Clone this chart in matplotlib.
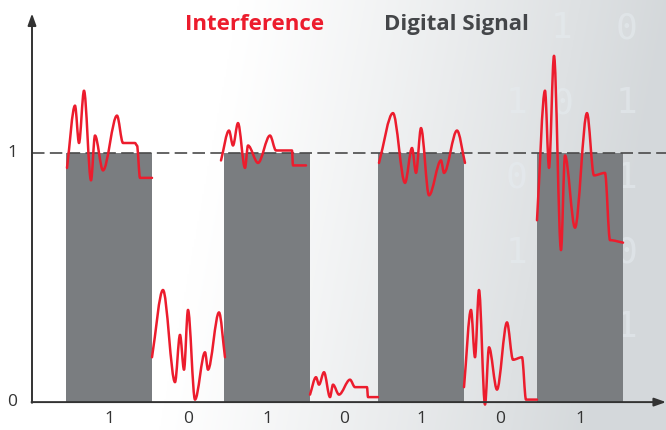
import numpy as np
import matplotlib
matplotlib.use('Agg')
import matplotlib.pyplot as plt
from matplotlib.path import Path
from matplotlib.patches import PathPatch

plt.rcParams['font.family'] = ['Open Sans', 'DejaVu Sans']

# bit sequence and slot edges (x units, y-axis at 0)
bits = [1, 0, 1, 0, 1, 0, 1]
edges = [0.34, 1.20, 1.92, 2.78, 3.46, 4.32, 5.05, 5.91]

# interference curves, one per bit (peaks / troughs)
noise_x = [
    [0.35, 0.43, 0.47, 0.52, 0.59, 0.63, 0.71, 0.85, 0.91, 1.03, 1.05, 1.08, 1.20],
    [1.20, 1.31, 1.43, 1.48, 1.52, 1.56, 1.63, 1.73, 1.76, 1.87, 1.93],
    [1.89, 1.97, 2.01, 2.06, 2.13, 2.16, 2.26, 2.38, 2.44, 2.60, 2.61, 2.74],
    [2.78, 2.84, 2.87, 2.92, 2.98, 3.01, 3.07, 3.18, 3.23, 3.35, 3.36, 3.46],
    [3.47, 3.61, 3.73, 3.80, 3.84, 3.89, 3.97, 4.09, 4.12, 4.25, 4.33],
    [4.32, 4.39, 4.43, 4.47, 4.53, 4.57, 4.65, 4.75, 4.81, 4.90, 4.94, 5.05],
    [5.05, 5.13, 5.17, 5.22, 5.29, 5.33, 5.43, 5.55, 5.62, 5.73, 5.78, 5.91],
]
noise_y = [
    [0.94, 1.19, 1.04, 1.25, 0.89, 1.07, 0.93, 1.15, 1.04, 1.04, 1.03, 0.90, 0.90],
    [0.18, 0.45, 0.08, 0.27, 0.13, 0.37, 0.01, 0.20, 0.13, 0.36, 0.18],
    [0.97, 1.09, 1.03, 1.12, 0.94, 1.03, 0.96, 1.07, 1.01, 1.01, 0.95, 0.95],
    [0.03, 0.10, 0.07, 0.12, 0.02, 0.07, 0.03, 0.09, 0.06, 0.06, 0.02, 0.02],
    [0.96, 1.16, 0.88, 1.02, 0.92, 1.10, 0.83, 0.97, 0.92, 1.09, 0.96],
    [0.06, 0.37, 0.18, 0.45, -0.01, 0.22, 0.05, 0.32, 0.17, 0.18, 0.01, 0.01],
    [0.73, 1.25, 0.94, 1.39, 0.61, 0.99, 0.70, 1.16, 0.91, 0.92, 0.65, 0.64],
]

RED = '#ec1c2d'
BAR = '#7a7d80'
DARK = '#333333'


def smooth_path(xs, ys):
    # cubic bezier through the points, flat tangent at each peak/trough
    verts = [(xs[0], ys[0])]
    codes = [Path.MOVETO]
    n = len(xs)
    for i in range(n - 1):
        x0, y0, x1, y1 = xs[i], ys[i], xs[i + 1], ys[i + 1]
        dx = x1 - x0
        s = (y1 - y0) / dx
        m0 = s if i == 0 else 0
        m1 = s if i + 1 == n - 1 else 0
        verts += [(x0 + dx / 3, y0 + m0 * dx / 3),
                  (x1 - dx / 3, y1 - m1 * dx / 3),
                  (x1, y1)]
        codes += [Path.CURVE4] * 3
    return Path(verts, codes)


fig = plt.figure(figsize=(6.66, 4.30), dpi=100)
ax = fig.add_axes([0, 0, 1, 1])
ax.set_xlim(-0.32, 6.34)
ax.set_ylim(-0.112, 1.614)
ax.axis('off')

# background: white on the left fading to light grey on the right
gx = np.linspace(0, 1, 400)
gy = np.linspace(0, 1, 260)
GX, GY = np.meshgrid(gx, gy)
t = np.clip((GX - 0.36 + 0.12 * (1 - GY)) / 0.64, 0, 1) ** 1.1
rgb = np.ones((260, 400, 3))
rgb[..., 0] = 1 - t * (1 - 0.835)
rgb[..., 1] = 1 - t * (1 - 0.85)
rgb[..., 2] = 1 - t * (1 - 0.86)
ax.imshow(rgb, extent=(-0.32, 6.34, -0.112, 1.614), aspect='auto',
          origin='lower', zorder=0)

# faint binary digits in the background
cols = [4.85, 5.30, 5.95]
tops = [1.20, 1.50, 1.50]
digits = ['1 0 1', '1 0 1 1 0', '0 1 1 0 1']
for cx, top, d in zip(cols, tops, digits):
    for k, ch in enumerate(d.split()):
        ax.text(cx, top - k * 0.30, ch, fontsize=26, color='#e6ecf0',
                ha='center', va='center', alpha=0.55, zorder=0.5,
                family='DejaVu Sans Mono')

# digital signal bars
lefts = np.array(edges[:-1])
widths = np.diff(edges)
ax.bar(lefts, bits, width=widths, align='edge', color=BAR, zorder=2)

# reference level 1
ax.plot([0, 6.34], [1, 1], color='#4a4a4a', lw=1.2, dashes=(7.5, 3.2), zorder=3)

# interference
for xs, ys in zip(noise_x, noise_y):
    ax.add_patch(PathPatch(smooth_path(xs, ys), fill=False, edgecolor=RED,
                           lw=1.8, capstyle='round', joinstyle='round', zorder=4))

# axes with arrows
ax.annotate('', xy=(6.34, 0), xytext=(-0.005, 0),
            arrowprops=dict(arrowstyle='-|>,head_length=0.7,head_width=0.25',
                            color=DARK, lw=1.4, shrinkA=0, shrinkB=0), zorder=5)
ax.annotate('', xy=(0, 1.56), xytext=(0, -0.003),
            arrowprops=dict(arrowstyle='-|>,head_length=0.7,head_width=0.25',
                            color=DARK, lw=1.4, shrinkA=0, shrinkB=0), zorder=5)

# labels
centers = (np.array(edges[:-1]) + np.array(edges[1:])) / 2
for cx, b in zip(centers, bits):
    ax.text(cx, -0.066, str(b), ha='center', va='center', fontsize=12.5, color=DARK)
ax.text(-0.20, 0, '0', ha='center', va='center', fontsize=12.5, color=DARK)
ax.text(-0.20, 1, '1', ha='center', va='center', fontsize=12.5, color=DARK)

ax.text(2.23, 1.515, 'Interference', ha='center', va='center', fontsize=16,
        fontweight='bold', color=RED)
ax.text(4.24, 1.515, 'Digital Signal', ha='center', va='center', fontsize=16,
        fontweight='bold', color='#444649')

fig.savefig('out.png', dpi=100)
